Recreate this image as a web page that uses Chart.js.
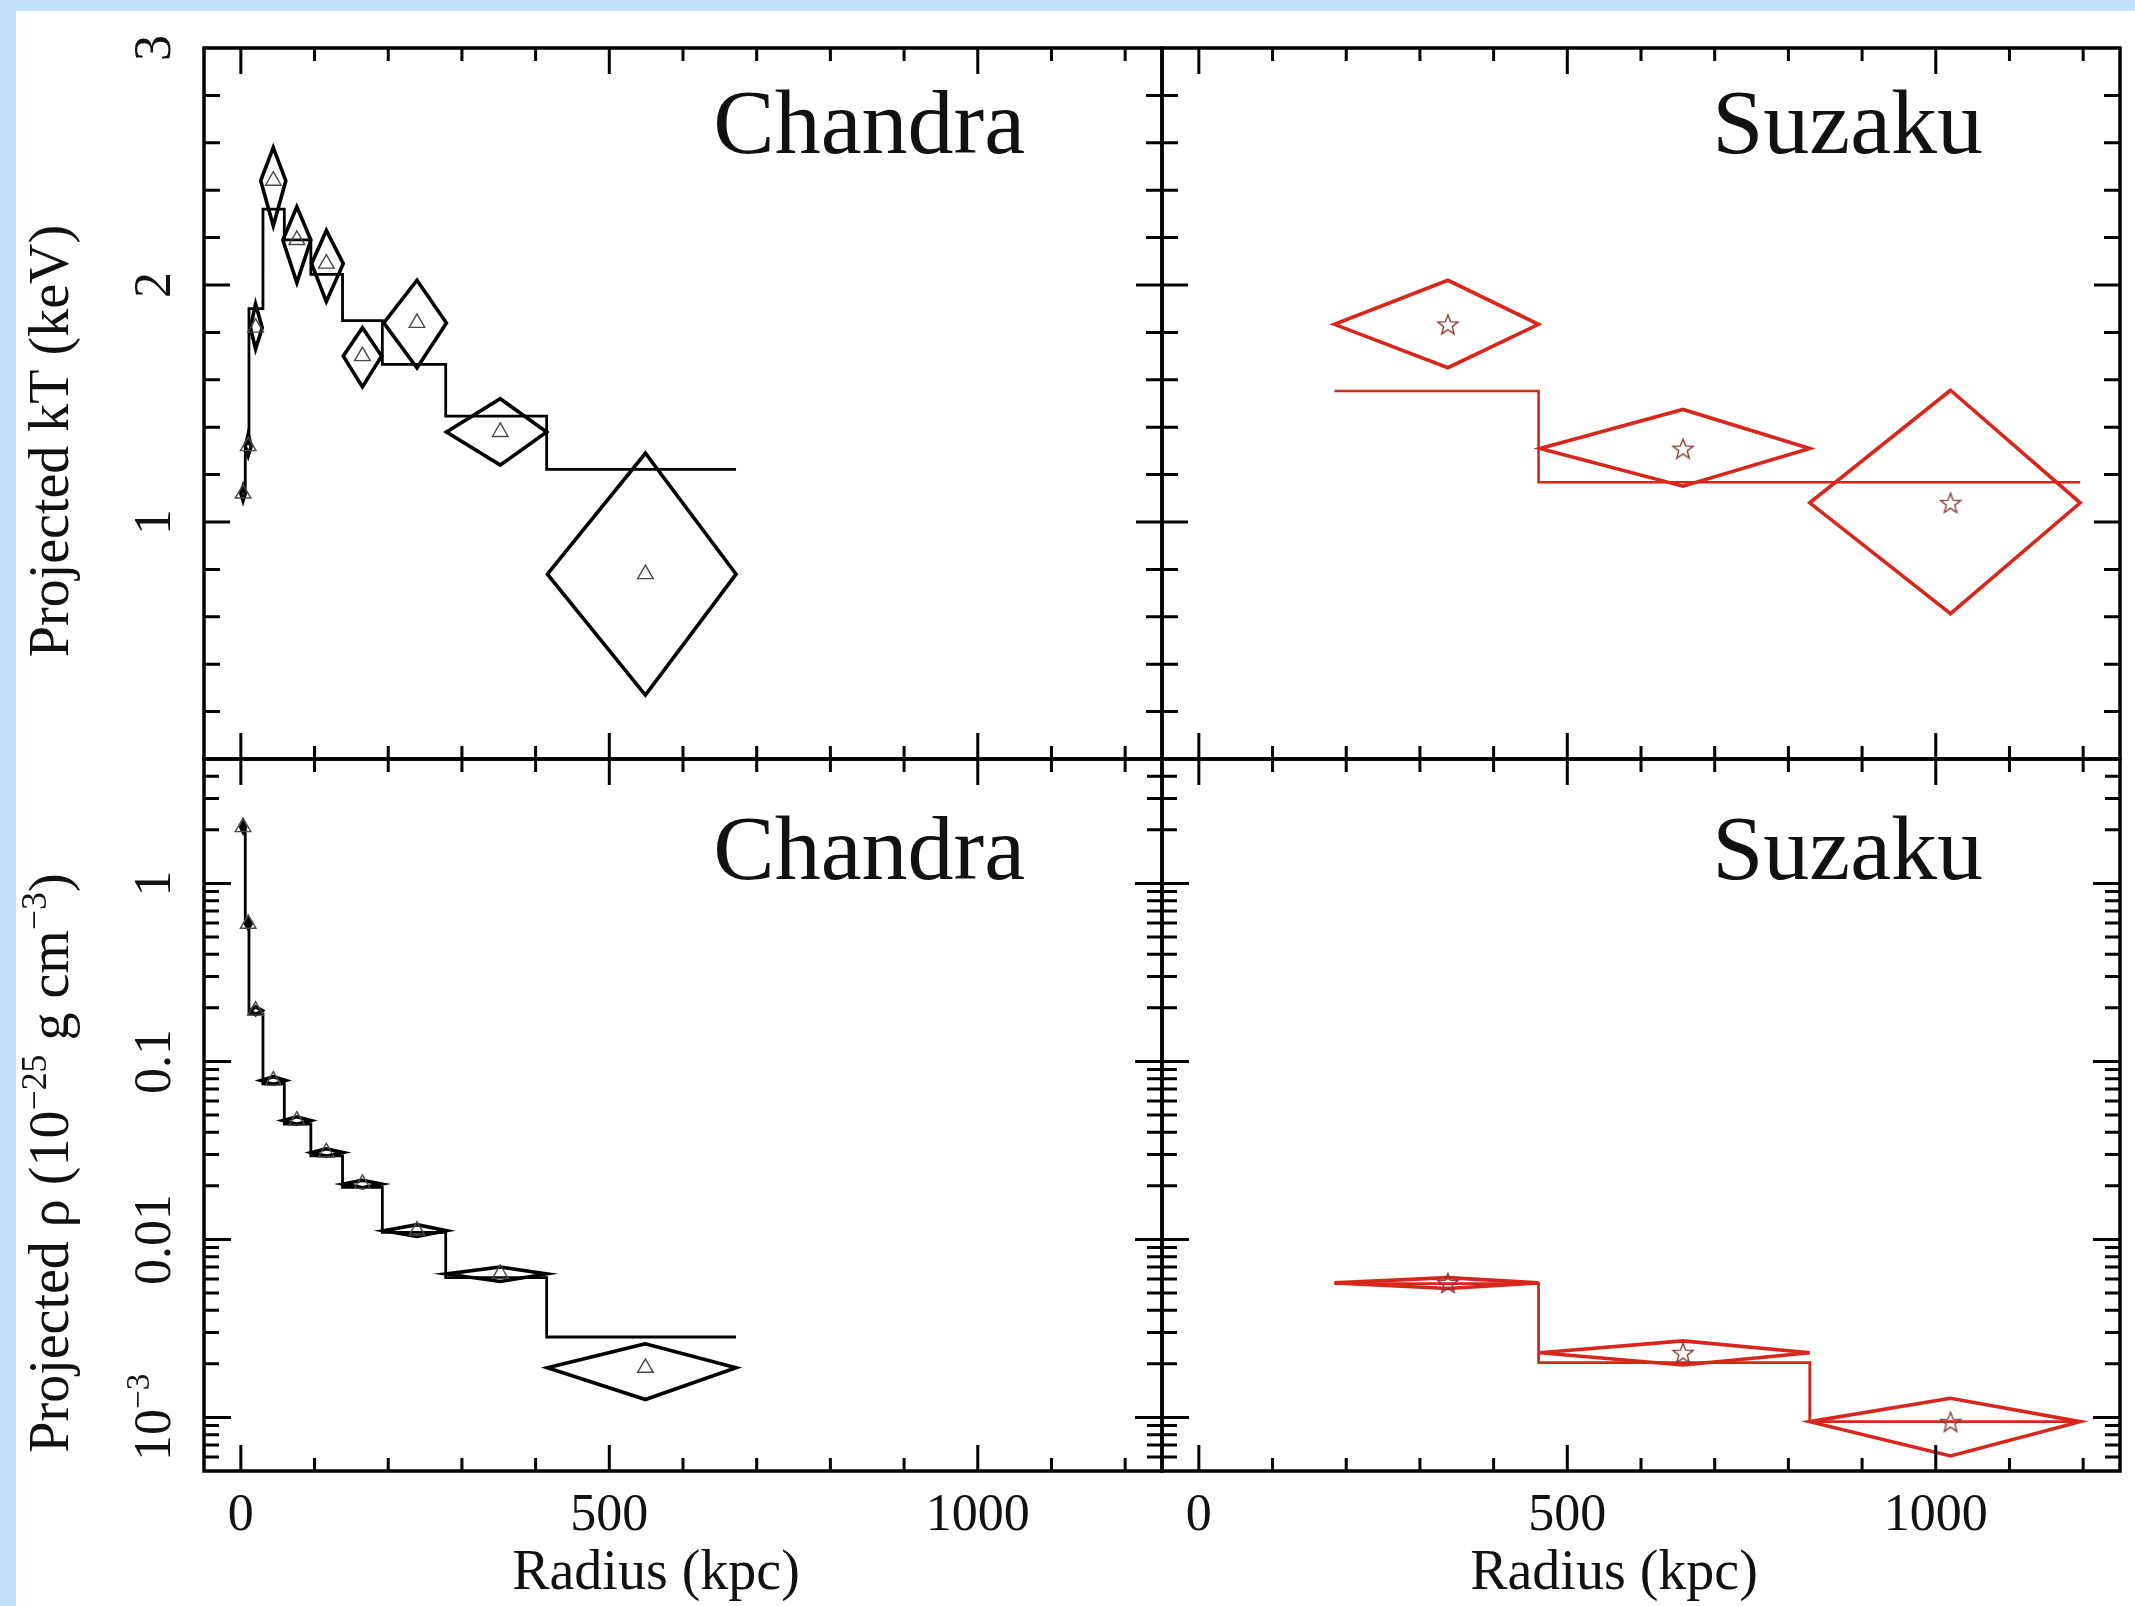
<!DOCTYPE html>
<html>
<head>
<meta charset="utf-8">
<script src="https://cdn.jsdelivr.net/npm/chart.js@4.4.1/dist/chart.umd.min.js"></script>
<style>
  html, body { margin: 0; padding: 0; }
  body { width: 2135px; height: 1606px; background: #c1e4fb; position: relative; overflow: hidden; }
  #paper { position: absolute; left: 16px; top: 11px; right: 0; bottom: 0; background: #ffffff; }
  canvas { position: absolute; left: 0; top: 0; }
</style>
</head>
<body>
<div id="paper"></div>
<canvas id="cTL" width="2135" height="1606"></canvas>
<canvas id="cTR" width="2135" height="1606"></canvas>
<canvas id="cBL" width="2135" height="1606"></canvas>
<canvas id="cBR" width="2135" height="1606"></canvas>
<script>
// ===================== DATA =====================
// Chandra annuli (kpc)
const shellEdges      = [0, 6, 11, 30, 59, 95, 138, 192, 278, 415, 672];
const chandraRadius   = [3, 10, 20, 44, 76, 116, 165, 239, 352, 549];
const chandraRadiusLo = [0, 6, 13, 27, 57, 96, 139, 194, 279, 416];
const chandraRadiusHi = [6, 14, 29, 61, 95, 139, 191, 279, 415, 672];
// Chandra projected temperature (keV)
const chandraKT   = [1.12, 1.32, 1.82, 2.44, 2.19, 2.09, 1.70, 1.84, 1.38, 0.78];
const chandraKTLo = [1.09, 1.28, 1.73, 2.25, 2.01, 1.93, 1.57, 1.65, 1.24, 0.27];
const chandraKTHi = [1.15, 1.37, 1.92, 2.58, 2.33, 2.23, 1.82, 2.02, 1.52, 1.29];
const chandraModelKT = [1.13, 1.33, 1.90, 2.32, 2.19, 2.045, 1.85, 1.665, 1.447, 1.222];
// Chandra projected density (1e-25 g cm^-3)
const chandraRho   = [2.07, 0.593, 0.193, 0.078, 0.0465, 0.0308, 0.0205, 0.0112, 0.0064, 0.0019];
const chandraRhoLo = [1.95, 0.56, 0.183, 0.0742, 0.0443, 0.0293, 0.0195, 0.0104, 0.0058, 0.00126];
const chandraRhoHi = [2.19, 0.63, 0.203, 0.0820, 0.0488, 0.0323, 0.0215, 0.0121, 0.0070, 0.00259];
const chandraModelRho = [2.0, 0.60, 0.185, 0.0747, 0.0445, 0.0295, 0.0196, 0.01094, 0.0061, 0.00283];

// Suzaku annuli (kpc)
const suzakuEdges    = [184, 461, 829, 1196];
const suzakuRadius   = [338, 657, 1020];
const suzakuRadiusLo = [184, 463, 829];
const suzakuRadiusHi = [461, 829, 1196];
const suzakuKT   = [1.834, 1.310, 1.081];
const suzakuKTLo = [1.651, 1.151, 0.613];
const suzakuKTHi = [2.020, 1.475, 1.556];
const suzakuModelKT = [1.553, 1.168, 1.168];
const suzakuRho   = [0.0057, 0.00231, 0.000946];
const suzakuRhoLo = [0.0053, 0.00197, 0.000607];
const suzakuRhoHi = [0.0061, 0.00269, 0.00128];
const suzakuModelRho = [0.00565, 0.00203, 0.000946];

// Axis ticks and labels
const xTickValues   = [0, 500, 1000];
const xTickLabels   = ['0', '500', '1000'];
const ktTickValues  = [1, 2, 3];
const ktTickLabels  = ['1', '2', '3'];
const rhoTickValues = [0.001, 0.01, 0.1, 1];
const rhoTickLabels = ['10^−3', '0.01', '0.1', '1'];
const xTitle   = 'Radius (kpc)';
const ktTitle  = 'Projected kT (keV)';
const rhoTitle = 'Projected ρ (10^−25^ g cm^−3^)';
const panelTitles = ['Chandra', 'Suzaku'];

// ===================== HELPERS =====================
const FONT = '"Liberation Serif", "Times New Roman", serif';
const W = 2135, H = 1606;
const FL = 204, FM = 1162, FR = 2120, FT = 48, FMY = 759, FB = 1471;
const RED = '#d8261b';

function markerPoints(xs, ys) { return xs.map((x, i) => ({ x: x, y: ys[i] })); }
function stepPoints(edges, vals) {
  const pts = [];
  vals.forEach((v, i) => { pts.push({ x: edges[i], y: v }); pts.push({ x: edges[i + 1], y: v }); });
  return pts;
}
function diamondPoints(xc, xlo, xhi, yc, ylo, yhi) {
  const pts = [];
  xc.forEach((_, i) => {
    pts.push({ x: xlo[i], y: yc[i] }, { x: xc[i], y: yhi[i] }, { x: xhi[i], y: yc[i] },
             { x: xc[i], y: ylo[i] }, { x: xlo[i], y: yc[i] }, { x: xc[i], y: yhi[i] },
             { x: xc[i], y: null });
  });
  return pts;
}
function starCanvas(size, color, lw) {
  const c = document.createElement('canvas');
  c.width = size; c.height = size;
  const g = c.getContext('2d');
  const R = size / 2 - lw, r = R * 0.42, cx = size / 2, cy = size / 2 + 1;
  g.beginPath();
  for (let i = 0; i < 10; i++) {
    const a = -Math.PI / 2 + i * Math.PI / 5;
    const rr = i % 2 ? r : R;
    g.lineTo(cx + rr * Math.cos(a), cy + rr * Math.sin(a));
  }
  g.closePath();
  g.strokeStyle = color; g.lineWidth = lw; g.stroke();
  return c;
}
// text with ^superscript^ segments
function parseRich(s) {
  const parts = s.split('^');
  return parts.map((t, i) => [t, i % 2 === 1]).filter(p => p[0].length);
}
function drawRich(ctx, str, x, y, size, rotate, align) {
  const parts = parseRich(str);
  const sup = size * 0.64;
  ctx.save();
  ctx.translate(x, y);
  if (rotate) ctx.rotate(-Math.PI / 2);
  ctx.textBaseline = 'alphabetic';
  ctx.textAlign = 'left';
  let total = 0;
  const widths = parts.map(([t, s]) => { ctx.font = (s ? sup : size) + 'px ' + FONT; const w = ctx.measureText(t).width; total += w; return w; });
  let cx = align === 'center' ? -total / 2 : (align === 'right' ? -total : 0);
  parts.forEach(([t, s], i) => {
    ctx.font = (s ? sup : size) + 'px ' + FONT;
    ctx.fillText(t, cx, s ? -size * 0.40 : 0);
    cx += widths[i];
  });
  ctx.restore();
}

const framePlugin = {
  id: 'frame',
  afterDraw(chart, args, o) {
    const ctx = chart.ctx, a = chart.chartArea, xs = chart.scales.x, ys = chart.scales.y;
    ctx.save();
    ctx.strokeStyle = '#000';
    ctx.lineWidth = 3;
    ctx.lineCap = 'butt';
    ctx.beginPath();
    for (let v = 0; v <= 1200; v += 100) {
      const px = xs.getPixelForValue(v);
      const len = v % 500 === 0 ? 26 : 13;
      ctx.moveTo(px, a.top); ctx.lineTo(px, a.top + len);
      ctx.moveTo(px, a.bottom); ctx.lineTo(px, a.bottom - len);
    }
    const yt = [];
    if (o.log) {
      for (let d = -4; d <= 0; d++) for (let m = 1; m <= 9; m++) {
        const v = m * Math.pow(10, d);
        if (v > ys.min * 1.001 && v < ys.max * 0.999) yt.push([v, m === 1 ? 27 : 15]);
      }
    } else {
      for (let k = 1; k < 15; k++) yt.push([k * 0.2, k % 5 === 0 ? 26 : 16]);
    }
    yt.forEach(([v, len]) => {
      const py = ys.getPixelForValue(v);
      ctx.moveTo(a.left, py); ctx.lineTo(a.left + len, py);
      ctx.moveTo(a.right, py); ctx.lineTo(a.right - len, py);
    });
    ctx.stroke();
    ctx.lineWidth = 3.5;
    ctx.strokeRect(a.left, a.top, a.right - a.left, a.bottom - a.top);

    ctx.fillStyle = '#111';
    // panel title
    ctx.font = '92px ' + FONT;
    ctx.textAlign = 'right';
    ctx.textBaseline = 'alphabetic';
    ctx.fillText(o.title, a.right - 137, a.top + o.titleDy);
    // y tick labels + title
    if (o.yLabels) {
      o.yValues.forEach((v, i) => drawRich(ctx, o.yLabels[i], 170, ys.getPixelForValue(v), 52, true, 'center'));
      drawRich(ctx, o.yTitle, 68, o.yTitleY, 56, true, 'center');
    }
    if (o.xLabels) {
      o.xValues.forEach((v, i) => drawRich(ctx, o.xLabels[i], xs.getPixelForValue(v), 1530, 52, false, 'center'));
      drawRich(ctx, xTitle, (a.left + a.right) / 2 - 27, 1589, 56, false, 'center');
    }
    ctx.restore();
  }
};

function makeChart(id, pad, yType, yMin, yMax, datasets, frameOpts) {
  return new Chart(document.getElementById(id), {
    type: 'line',
    data: { datasets: datasets },
    options: {
      responsive: false,
      animation: false,
      devicePixelRatio: 1,
      layout: { padding: pad },
      scales: {
        x: { type: 'linear', min: -50, max: 1250, display: false },
        y: { type: yType, min: yMin, max: yMax, display: false }
      },
      plugins: { legend: { display: false }, tooltip: { enabled: false }, frame: frameOpts },
      elements: { line: { tension: 0, borderJoinStyle: 'miter' } }
    },
    plugins: [framePlugin]
  });
}

const triStyle = { showLine: false, pointStyle: 'triangle', pointRadius: 9, pointBorderWidth: 1.4,
                   pointBorderColor: '#4a4a4a', pointBackgroundColor: 'rgba(0,0,0,0)' };
const star = starCanvas(24, '#8a3a36', 1.4);
const starStyle = { showLine: false, pointStyle: star, pointRadius: 10,
                    pointBorderColor: '#8a3a36', pointBackgroundColor: 'rgba(0,0,0,0)' };

const padTL = { left: FL, top: FT, right: W - FM, bottom: H - FMY };
const padTR = { left: FM, top: FT, right: W - FR, bottom: H - FMY };
const padBL = { left: FL, top: FMY, right: W - FM, bottom: H - FB };
const padBR = { left: FM, top: FMY, right: W - FR, bottom: H - FB };

// Top-left: Chandra kT
makeChart('cTL', padTL, 'linear', 0, 3, [
  Object.assign({ data: markerPoints(chandraRadius, chandraKT) }, triStyle),
  { data: diamondPoints(chandraRadius, chandraRadiusLo, chandraRadiusHi, chandraKT, chandraKTLo, chandraKTHi),
    borderColor: '#000', borderWidth: 3.6, pointRadius: 0, fill: false, spanGaps: false },
  { data: stepPoints(shellEdges, chandraModelKT), borderColor: '#000', borderWidth: 2.8, pointRadius: 0, fill: false }
], { log: false, title: panelTitles[0], titleDy: 105, yValues: ktTickValues, yLabels: ktTickLabels, yTitle: ktTitle, yTitleY: 441 });

// Top-right: Suzaku kT
makeChart('cTR', padTR, 'linear', 0, 3, [
  Object.assign({ data: markerPoints(suzakuRadius, suzakuKT) }, starStyle),
  { data: diamondPoints(suzakuRadius, suzakuRadiusLo, suzakuRadiusHi, suzakuKT, suzakuKTLo, suzakuKTHi),
    borderColor: RED, borderWidth: 3.6, pointRadius: 0, fill: false, spanGaps: false },
  { data: stepPoints(suzakuEdges, suzakuModelKT), borderColor: RED, borderWidth: 2.6, pointRadius: 0, fill: false }
], { log: false, title: panelTitles[1], titleDy: 105 });

// Bottom-left: Chandra density
makeChart('cBL', padBL, 'logarithmic', 5e-4, 5, [
  Object.assign({ data: markerPoints(chandraRadius, chandraRho) }, triStyle),
  { data: diamondPoints(chandraRadius, chandraRadiusLo, chandraRadiusHi, chandraRho, chandraRhoLo, chandraRhoHi),
    borderColor: '#000', borderWidth: 3.6, pointRadius: 0, fill: false, spanGaps: false },
  { data: stepPoints(shellEdges, chandraModelRho), borderColor: '#000', borderWidth: 2.8, pointRadius: 0, fill: false }
], { log: true, title: panelTitles[0], titleDy: 120, yValues: rhoTickValues, yLabels: rhoTickLabels, yTitle: rhoTitle, yTitleY: 1163,
     xValues: xTickValues, xLabels: xTickLabels });

// Bottom-right: Suzaku density
makeChart('cBR', padBR, 'logarithmic', 5e-4, 5, [
  Object.assign({ data: markerPoints(suzakuRadius, suzakuRho) }, starStyle),
  { data: diamondPoints(suzakuRadius, suzakuRadiusLo, suzakuRadiusHi, suzakuRho, suzakuRhoLo, suzakuRhoHi),
    borderColor: RED, borderWidth: 3.6, pointRadius: 0, fill: false, spanGaps: false },
  { data: stepPoints(suzakuEdges, suzakuModelRho), borderColor: RED, borderWidth: 2.8, pointRadius: 0, fill: false }
], { log: true, title: panelTitles[1], titleDy: 120, xValues: xTickValues, xLabels: xTickLabels });
</script>
</body>
</html>
